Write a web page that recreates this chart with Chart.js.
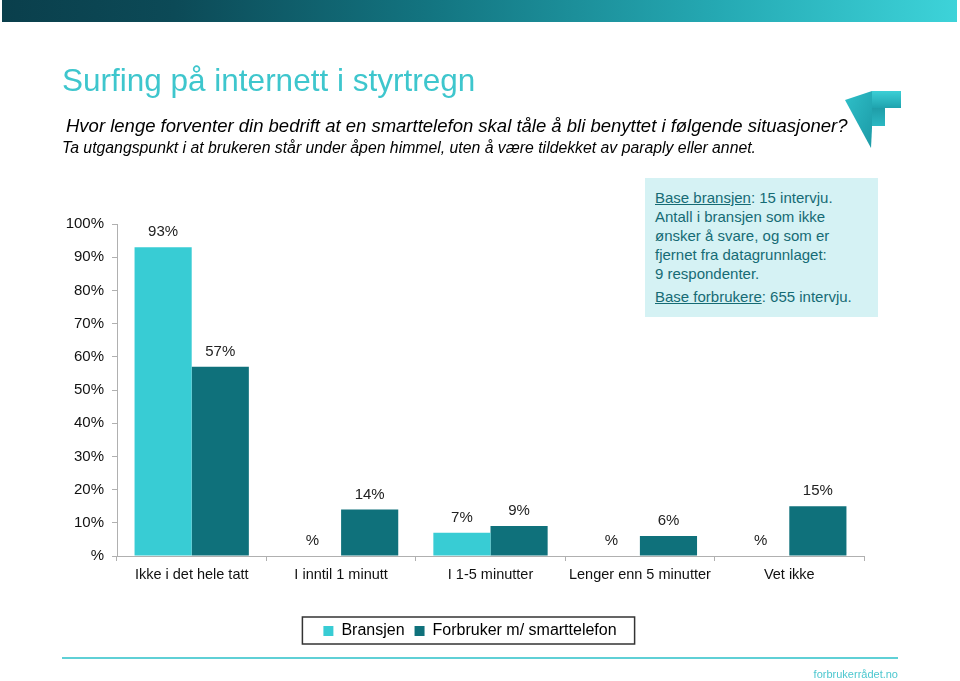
<!DOCTYPE html>
<html>
<head>
<meta charset="utf-8">
<script src="https://cdn.jsdelivr.net/npm/chart.js@4/dist/chart.umd.min.js"></script>
<style>
  body { margin: 0; width: 960px; height: 681px; background: #fff; font-family: "Liberation Sans", Arial, sans-serif; overflow: hidden; }
  #wrap { position: relative; width: 960px; height: 681px; }
  #chart { position: absolute; left: 0; top: 0; }
  .banner { position: absolute; left: 2px; top: 0; width: 955px; height: 22px;
    background: linear-gradient(to right, #0a3f4c 0%, #0c4a57 18%, #137581 45%, #25a9b3 75%, #3dd3d9 100%); }
  .title { position: absolute; left: 62px; top: 62px; font-size: 31.5px; color: #3ec6cd; }
  .q1 { position: absolute; left: 66px; top: 115px; font-size: 18.5px; font-style: italic; color: #000; }
  .q2 { position: absolute; left: 62px; top: 139px; font-size: 15.8px; font-style: italic; color: #000; }
  .info { position: absolute; left: 645px; top: 178px; width: 233px; height: 139px; background: #d5f2f4;
    color: #156b74; font-size: 15px; line-height: 19px; box-sizing: border-box; padding: 10px 0 0 10px; }
  .info .last { margin-top: 4px; }
  .footline { position: absolute; left: 62px; top: 657px; width: 836px; height: 2px; background: #5fd0d6; }
  .foot { position: absolute; right: 62px; top: 668px; font-size: 11px; color: #4cc7cf; }
  .logo { position: absolute; left: 843px; top: 88px; }
</style>
</head>
<body>
<div id="wrap">
  <canvas id="chart" width="960" height="681"></canvas>
  <div class="banner"></div>
  <div class="title">Surfing på internett i styrtregn</div>
  <div class="q1">Hvor lenge forventer din bedrift at en smarttelefon skal tåle å bli benyttet i følgende situasjoner?</div>
  <div class="q2">Ta utgangspunkt i at brukeren står under åpen himmel, uten å være tildekket av paraply eller annet.</div>
  <svg class="logo" width="62" height="64" viewBox="0 0 62 64">
    <defs>
      <linearGradient id="lg1" x1="0" y1="0" x2="1" y2="1">
        <stop offset="0" stop-color="#2fc0c9"/><stop offset="1" stop-color="#1c9aa6"/>
      </linearGradient>
      <linearGradient id="lg2" x1="0" y1="0" x2="0" y2="1">
        <stop offset="0" stop-color="#3ccfd6"/><stop offset="1" stop-color="#1fa3ae"/>
      </linearGradient>
      <linearGradient id="lg3" x1="0" y1="0" x2="0" y2="1">
        <stop offset="0" stop-color="#1f9da8"/><stop offset="1" stop-color="#2bb8c2"/>
      </linearGradient>
    </defs>
    <polygon points="2,12 29,3 29,40 28,60" fill="url(#lg1)"/>
    <polygon points="29,3 58,3 58,20 42,20 42,20 29,20" fill="url(#lg2)"/>
    <rect x="29" y="20" width="13" height="18" fill="url(#lg3)"/>
  </svg>
  <div class="info">
    <div><u>Base bransjen</u>: 15 intervju.</div>
    <div>Antall i bransjen som ikke</div>
    <div>ønsker å svare, og som er</div>
    <div>fjernet fra datagrunnlaget:</div>
    <div>9 respondenter.</div>
    <div class="last"><u>Base forbrukere</u>: 655 intervju.</div>
  </div>
  <div class="footline"></div>
  <div class="foot">forbrukerrådet.no</div>
</div>
<script>
const categories = ['Ikke i det hele tatt', 'I inntil 1 minutt', 'I 1-5 minutter', 'Lenger enn 5 minutter', 'Vet ikke'];
const bransjen = [93, 0, 7, 0, 0];
const forbruker = [57, 14, 9, 6, 15];
const seriesNames = ['Bransjen', 'Forbruker m/ smarttelefon'];
const yTicks = [0, 10, 20, 30, 40, 50, 60, 70, 80, 90, 100];

const fontFamily = '"Liberation Sans", Arial, sans-serif';
const pct = v => v === 0 ? '%' : v + '%';

// value labels above the bars
const valueLabels = {
    id: 'valueLabels',
    afterDatasetsDraw(chart) {
        const ctx = chart.ctx;
        ctx.save();
        ctx.font = '15px ' + fontFamily;
        ctx.fillStyle = '#222';
        ctx.textAlign = 'center';
        ctx.textBaseline = 'middle';
        chart.data.datasets.forEach((ds, di) => {
            chart.getDatasetMeta(di).data.forEach((bar, i) => {
                ctx.fillText(pct(ds.data[i]), bar.x, bar.y - 15);
            });
        });
        ctx.restore();
    }
};

// frame round the legend
const legendFrame = {
    id: 'legendFrame',
    afterDraw(chart) {
        const boxes = chart.legend.legendHitBoxes;
        if (!boxes || !boxes.length) return;
        const left = Math.min(...boxes.map(b => b.left)) - 21;
        const right = Math.max(...boxes.map(b => b.left + b.width)) + 18;
        const top = boxes[0].top + boxes[0].height / 2 - 14;
        const ctx = chart.ctx;
        ctx.save();
        ctx.strokeStyle = '#333';
        ctx.lineWidth = 1.5;
        ctx.strokeRect(left, top, right - left, 27);
        ctx.restore();
    }
};

new Chart(document.getElementById('chart'), {
    type: 'bar',
    data: {
        labels: categories,
        datasets: [
            { label: seriesNames[0], data: bransjen, backgroundColor: '#38ccd4' },
            { label: seriesNames[1], data: forbruker, backgroundColor: '#0f717b' }
        ]
    },
    options: {
        responsive: false,
        animation: false,
        layout: { padding: { left: 40, right: 60, top: 224, bottom: 32 } },
        datasets: { bar: { categoryPercentage: 0.765, barPercentage: 1 } },
        plugins: {
            legend: {
                position: 'bottom',
                labels: {
                    boxWidth: 10, boxHeight: 10, padding: 10,
                    color: '#000', font: { family: fontFamily, size: 16 }
                }
            },
            tooltip: { enabled: false }
        },
        scales: {
            x: {
                grid: { drawOnChartArea: false, tickLength: 5, color: '#b0b0b0', offset: true },
                border: { color: '#b0b0b0' },
                ticks: { color: '#111', font: { family: fontFamily, size: 14.5 }, padding: 5, maxRotation: 0 },
                afterFit: s => { s.height = 57; }
            },
            y: {
                min: 0, max: 100,
                afterBuildTicks: s => { s.ticks = yTicks.map(v => ({ value: v })); },
                grid: { drawOnChartArea: false, tickLength: 5, color: '#b0b0b0' },
                border: { color: '#b0b0b0' },
                ticks: { color: '#111', font: { family: fontFamily, size: 15 }, padding: 8, callback: v => pct(v) },
                afterFit: s => { s.width = 77; }
            },
            yRight: {
                position: 'right',
                grid: { display: false },
                border: { display: false },
                ticks: { display: false },
                afterFit: s => { s.width = 36; }
            }
        }
    },
    plugins: [valueLabels, legendFrame]
});
</script>
</body>
</html>
